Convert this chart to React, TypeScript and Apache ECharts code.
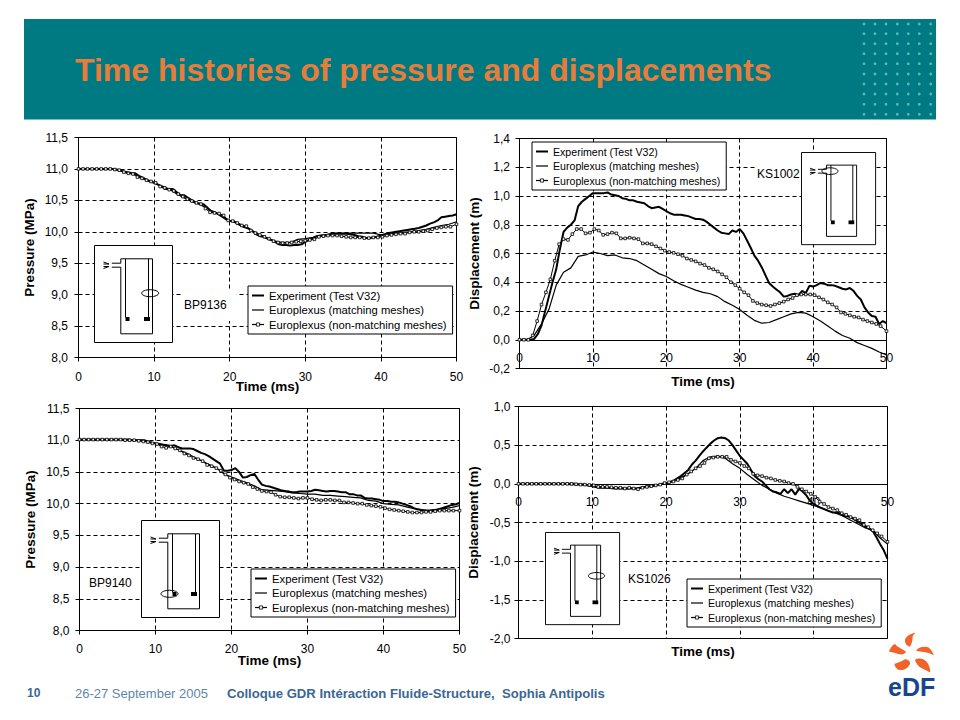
import React, { useEffect, useRef } from "react";
import * as echarts from "echarts";

const timesHalf: number[] = Array.from({ length: 101 }, (_, i) => i / 2);
const timesWhole: number[] = Array.from({ length: 51 }, (_, i) => i);
const timesMarked: number[] = Array.from({ length: 84 }, (_, i) => (i < 83 ? i * 0.6 : 50));

const seriesNames = ["Experiment (Test V32)", "Europlexus (matching meshes)", "Europlexus (non-matching meshes)"];

const tlExperiment = [
  11, 11, 11, 11, 11, 11, 11, 11, 11, 11,
  10.99, 10.98, 10.95, 10.94, 10.93, 10.93, 10.89, 10.86, 10.83, 10.8,
  10.78, 10.75, 10.72, 10.68, 10.68, 10.68, 10.63, 10.58, 10.58, 10.54,
  10.5, 10.46, 10.45, 10.44, 10.39, 10.33, 10.31, 10.28, 10.24, 10.2,
  10.17, 10.17, 10.13, 10.1, 10.07, 10.05, 10.01, 9.96, 9.93, 9.92,
  9.89, 9.87, 9.84, 9.8, 9.79, 9.79, 9.78, 9.79, 9.79, 9.8,
  9.84, 9.87, 9.9, 9.93, 9.94, 9.94, 9.95, 9.97, 9.97, 9.97,
  9.97, 9.97, 9.96, 9.95, 9.93, 9.92, 9.9, 9.9, 9.91, 9.92,
  9.94, 9.96, 9.98, 9.99, 10, 10.01, 10.02, 10.03, 10.04, 10.05,
  10.06, 10.08, 10.1, 10.13, 10.15, 10.18, 10.23, 10.24, 10.25, 10.26,
  10.28,
];
const tlMatching = [
  11, 11, 11, 11, 11, 10.99, 10.96, 10.94, 10.87, 10.82,
  10.78, 10.73, 10.68, 10.6, 10.54, 10.48, 10.44, 10.37, 10.31, 10.25,
  10.18, 10.14, 10.09, 10.02, 9.95, 9.9, 9.85, 9.83, 9.83, 9.88,
  9.89, 9.91, 9.94, 9.96, 9.98, 9.98, 9.98, 9.98, 9.98, 9.98,
  9.95, 9.96, 9.98, 9.99, 10, 10.02, 10.04, 10.07, 10.1, 10.12,
  10.16,
];
const tlNonMatching = [
  11, 11, 11, 11, 11, 11, 11, 11,
  10.99, 10.98, 10.95, 10.93, 10.92, 10.87, 10.85, 10.82, 10.8,
  10.78, 10.72, 10.7, 10.67, 10.65, 10.6, 10.56, 10.52,
  10.49, 10.46, 10.44, 10.37, 10.31, 10.3, 10.29, 10.26,
  10.18, 10.17, 10.14, 10.1, 10.09, 10.02, 9.98, 9.95, 9.92,
  9.89, 9.85, 9.83, 9.82, 9.82, 9.83, 9.84, 9.85,
  9.86, 9.87, 9.88, 9.92, 9.93, 9.94, 9.94, 9.94,
  9.93, 9.92, 9.91, 9.91, 9.91, 9.9, 9.9, 9.91, 9.91,
  9.92, 9.94, 9.95, 9.96, 9.97, 9.97, 9.99, 10,
  10, 10.01, 10.02, 10.04, 10.06, 10.07, 10.08, 10.08,
  10.12,
];

const trExperiment = [
  0, 0, 0, 0, 0.005, 0.04, 0.1, 0.2, 0.3, 0.4,
  0.49, 0.63, 0.75, 0.78, 0.8, 0.83, 0.93, 0.96, 0.98, 1.0,
  1.02, 1.02, 1.02, 1.02, 1.025, 1.01, 1.005, 1.0, 0.985, 0.98,
  0.97, 0.97, 0.96, 0.955, 0.95, 0.93, 0.915, 0.92, 0.925, 0.91,
  0.895, 0.88, 0.87, 0.87, 0.87, 0.865, 0.86, 0.85, 0.84, 0.84,
  0.835, 0.82, 0.8, 0.78, 0.76, 0.745, 0.74, 0.735, 0.76, 0.75,
  0.77, 0.74, 0.69, 0.64, 0.585, 0.55, 0.505, 0.45, 0.395, 0.37,
  0.35, 0.33, 0.3, 0.305, 0.315, 0.32, 0.31, 0.34, 0.325, 0.375,
  0.37, 0.38, 0.395, 0.39, 0.38, 0.38, 0.375, 0.365, 0.355, 0.35,
  0.36, 0.34, 0.305, 0.28, 0.225, 0.19, 0.165, 0.16, 0.11, 0.13,
  0.115,
];
const trMatching = [
  0, 0, 0.03, 0.11, 0.21, 0.38, 0.47, 0.5, 0.58, 0.59,
  0.61, 0.6, 0.585, 0.59, 0.57, 0.565, 0.55, 0.52, 0.49, 0.46,
  0.44, 0.41, 0.385, 0.365, 0.345, 0.33, 0.32, 0.3, 0.265, 0.24,
  0.21, 0.17, 0.135, 0.115, 0.12, 0.14, 0.16, 0.18, 0.19, 0.185,
  0.16, 0.13, 0.095, 0.06, 0.03, 0.01, -0.02, -0.04, -0.06, -0.085,
  -0.105,
];
const trNonMatching = [
  0, 0, 0, 0.03, 0.13, 0.245, 0.33, 0.42, 0.55, 0.665,
  0.7, 0.695, 0.735, 0.77, 0.77, 0.74, 0.745, 0.77, 0.76, 0.73, 0.735,
  0.745, 0.74, 0.705, 0.705,
  0.71, 0.705, 0.7, 0.67, 0.67, 0.665, 0.65, 0.635,
  0.62, 0.61, 0.605, 0.595, 0.585, 0.565, 0.555, 0.545, 0.53,
  0.52, 0.5, 0.49, 0.475, 0.455, 0.435, 0.4, 0.38,
  0.355, 0.33, 0.31, 0.27, 0.255, 0.245, 0.24, 0.235,
  0.245, 0.255, 0.265, 0.28, 0.29, 0.31, 0.315, 0.315, 0.315,
  0.31, 0.295, 0.28, 0.26, 0.245, 0.225, 0.19, 0.18,
  0.17, 0.16, 0.155, 0.14, 0.13, 0.12, 0.11, 0.095,
  0.06,
];

const blExperiment = [
  11.01, 11.01, 11.01, 11.01, 11.01, 11.01, 11.01, 11.01, 11.01, 11.01,
  11.01, 11.01, 11.01, 11.01, 11, 11, 11, 11, 10.98, 10.96,
  10.95, 10.94, 10.93, 10.92, 10.91, 10.92, 10.89, 10.87, 10.87, 10.87,
  10.86, 10.83, 10.8, 10.78, 10.75, 10.71, 10.67, 10.63, 10.52, 10.52,
  10.53, 10.56, 10.5, 10.41, 10.42, 10.45, 10.47, 10.38, 10.3, 10.28,
  10.27, 10.25, 10.23, 10.21, 10.2, 10.19, 10.18, 10.18, 10.19, 10.19,
  10.19, 10.2, 10.22, 10.21, 10.2, 10.19, 10.2, 10.2, 10.19, 10.18,
  10.18, 10.15, 10.15, 10.13, 10.13, 10.09, 10.08, 10.08, 10.07, 10.06,
  10.04, 10.04, 10.03, 10.03, 10.02, 10, 9.98, 9.96, 9.93, 9.91,
  9.9, 9.89, 9.88, 9.89, 9.9, 9.92, 9.94, 9.96, 9.98, 9.99,
  10.01,
];
const blMatching = [
  11.01, 11.01, 11.01, 11.01, 11.01, 11.01, 11.01, 11, 11, 10.98,
  10.95, 10.93, 10.9, 10.85, 10.8, 10.74, 10.68, 10.62, 10.56, 10.47,
  10.42, 10.37, 10.33, 10.28, 10.22, 10.21, 10.2, 10.19, 10.17, 10.16,
  10.15, 10.15, 10.13, 10.13, 10.12, 10.11, 10.1, 10.09, 10.05, 10.04,
  10, 9.99, 9.98, 9.95, 9.92, 9.9, 9.9, 9.91, 9.92, 9.94,
  9.97,
];
const blNonMatching = [
  11.01, 11.01, 11.01, 11.01, 11.01, 11.01, 11.01, 11.01,
  11.01, 11.01, 11, 11, 11, 10.99, 10.98, 10.97, 10.95,
  10.94, 10.9, 10.88, 10.9, 10.87, 10.84, 10.79, 10.76,
  10.72, 10.7, 10.67, 10.61, 10.59, 10.56, 10.52, 10.46,
  10.41, 10.38, 10.35, 10.33, 10.31, 10.26, 10.23, 10.2, 10.19,
  10.18, 10.14, 10.11, 10.1, 10.1, 10.09, 10.08, 10.09,
  10.09, 10.07, 10.06, 10.05, 10.06, 10.06, 10.05, 10.05,
  10.02, 10.02, 10.01, 10, 10, 9.98, 9.97, 9.96, 9.95,
  9.93, 9.91, 9.9, 9.89, 9.88, 9.87, 9.86, 9.86,
  9.86, 9.87, 9.87, 9.88, 9.89, 9.89, 9.89, 9.89,
  9.89,
];

const brExperiment = [
  0, 0, 0, 0, 0, 0, 0, 0, 0, 0,
  0, 0, 0, 0, 0, 0, -0.005, -0.005, -0.01, -0.02,
  -0.03, -0.04, -0.05, -0.05, -0.05, -0.055, -0.06, -0.06, -0.06, -0.065,
  -0.06, -0.06, -0.06, -0.05, -0.04, -0.03, -0.03, -0.02, -0.01, 0,
  0, 0.02, 0.04, 0.07, 0.1, 0.14, 0.18, 0.25, 0.3, 0.36,
  0.42, 0.47, 0.52, 0.56, 0.59, 0.6, 0.59, 0.56, 0.5, 0.43,
  0.36, 0.31, 0.26, 0.18, 0.1, 0.06, 0.03, -0.02, -0.07, -0.1,
  -0.11, -0.13, -0.07, -0.12, -0.07, -0.14, -0.065, -0.1, -0.15, -0.22,
  -0.26, -0.29, -0.31, -0.33, -0.35, -0.37, -0.37, -0.38, -0.41, -0.42,
  -0.43, -0.46, -0.49, -0.52, -0.55, -0.58, -0.61, -0.69, -0.78, -0.86,
  -0.97,
];
const brMatching = [
  0, 0, 0, 0, 0, 0, 0, -0.01, -0.01, -0.02,
  -0.03, -0.04, -0.05, -0.05, -0.06, -0.06, -0.06, -0.05, -0.03, -0.01,
  0.01, 0.04, 0.08, 0.13, 0.2, 0.3, 0.35, 0.36, 0.33, 0.26,
  0.2, 0.12, 0.05, -0.02, -0.07, -0.12, -0.16, -0.19, -0.22, -0.25,
  -0.28, -0.31, -0.35, -0.38, -0.42, -0.47, -0.52, -0.57, -0.6, -0.7,
  -0.78,
];
const brNonMatching = [
  0, 0, 0, 0, 0, 0, 0, 0,
  0, 0, 0, 0, 0, -0.005, -0.01, -0.01, -0.015,
  -0.02, -0.04, -0.04, -0.04, -0.045, -0.05, -0.05, -0.06,
  -0.05, -0.06, -0.07, -0.05, -0.04, -0.03, -0.02, -0.01,
  0.01, 0.02, 0.03, 0.05, 0.07, 0.12, 0.16, 0.2, 0.23,
  0.27, 0.33, 0.34, 0.35, 0.35, 0.35, 0.31, 0.29,
  0.27, 0.23, 0.2, 0.13, 0.11, 0.1, 0.08, 0.07,
  0.05, 0.04, 0.03, 0.01, 0, -0.04, -0.07, -0.1, -0.13,
  -0.17, -0.23, -0.26, -0.3, -0.32, -0.34, -0.38, -0.4,
  -0.43, -0.45, -0.47, -0.53, -0.56, -0.6, -0.64, -0.68,
  -0.75,
];

const dotColumns = [864, 875, 886, 897.3, 908.3, 919.3, 930.7];
const dotRows = [24, 33.7, 43.7, 53.7, 63.7, 74, 84, 94, 104.3, 114.3];

const logoPath =
  "M168 38C150 40 135 50 135 62C135 72 142 78 150 80C156 72 158 60 158 52C158 46 162 42 168 38Z" +
  "M87 95C92 82 100 72 106 72C112 82 125 85 138 95C135 103 125 105 115 102C105 98 95 96 87 95Z" +
  "M168 92C175 82 190 78 205 82C215 90 220 100 222 106C210 98 190 96 168 92Z" +
  "M165 120C175 112 190 115 200 125C208 135 213 150 210 158C200 150 190 148 180 142C172 135 168 128 165 120Z" +
  "M103 132C112 128 125 125 135 118C145 118 152 125 150 132C145 145 130 152 118 150C110 148 105 140 103 132Z";
echarts.graphic.registerShape("edfLogo", echarts.graphic.extendPath(logoPath, {}) as any);

const comma = (v: number) => v.toFixed(1).replace(".", ",");
const FONT = "'Liberation Sans', Arial, sans-serif";

function pairs(times: number[], values: number[]) {
  return values.map((v, i) => [times[i], v]);
}

function panelSeries(idx: number, exp: number[], mat: number[], non: number[]) {
  const base = { type: "line", xAxisIndex: idx, yAxisIndex: idx, smooth: false, z: 3 };
  return [
    { ...base, name: seriesNames[0], data: pairs(timesHalf, exp), symbol: "none", lineStyle: { color: "#000", width: 2 }, itemStyle: { color: "#000" } },
    { ...base, name: seriesNames[1], data: pairs(timesWhole, mat), symbol: "none", lineStyle: { color: "#000", width: 1.2 }, itemStyle: { color: "#000" } },
    { ...base, name: seriesNames[2], data: pairs(timesMarked, non), symbol: "rect", symbolSize: 2.6, lineStyle: { color: "#000", width: 1 }, itemStyle: { color: "#fff", borderColor: "#000", borderWidth: 0.8 } },
  ];
}

function panelAxes(idx: number, yMin: number, yMax: number, yStep: number, yName: string, xGap: number, yGap: number, xMargin: number, yMargin: number) {
  const common = {
    gridIndex: idx,
    type: "value",
    axisLine: { show: true, lineStyle: { color: "#000", width: 1 } },
    axisTick: { show: true, length: 4, lineStyle: { color: "#000" } },
    splitLine: { show: true, lineStyle: { color: "#000", width: 1, type: [4, 3] } },
    nameLocation: "middle",
    nameMoveOverlap: false,
    nameTextStyle: { color: "#000", fontFamily: FONT, fontWeight: "bold", fontSize: 13.5 },
  };
  return {
    x: {
      ...common,
      min: 0,
      max: 50,
      interval: 10,
      name: "Time (ms)",
      nameGap: xGap,
      axisLabel: { color: "#000", fontFamily: FONT, fontSize: 12, margin: xMargin, showMinLabel: true, showMaxLabel: true },
    },
    y: {
      ...common,
      min: yMin,
      max: yMax,
      interval: yStep,
      name: yName,
      nameGap: yGap,
      axisLabel: { color: "#000", fontFamily: FONT, fontSize: 12, margin: yMargin, formatter: comma, showMinLabel: true, showMaxLabel: true },
    },
  };
}

const hiddenMarker = { opacity: 0, borderWidth: 0 };

function legendAt(left: number, top: number, fontSize: number) {
  return {
    orient: "vertical",
    left,
    top,
    data: [
      { name: seriesNames[0], itemStyle: hiddenMarker, lineStyle: { color: "#000", width: 2 } },
      { name: seriesNames[1], itemStyle: hiddenMarker, lineStyle: { color: "#000", width: 1.2 } },
      { name: seriesNames[2], itemStyle: { color: "#fff", borderColor: "#000", borderWidth: 0.8 }, lineStyle: { color: "#000", width: 1.2 } },
    ],
    selectedMode: false,
    itemWidth: 12,
    itemHeight: 4,
    itemGap: 3.5,
    padding: [4, 6, 4, 3],
    backgroundColor: "#fff",
    borderColor: "#000",
    borderWidth: 1,
    borderRadius: 0,
    textStyle: { color: "#000", fontFamily: FONT, fontSize },
  };
}

function inset(x: number, y: number, s: number, ex: number, ey: number, markerLeft: number) {
  const ln = (x1: number, y1: number, x2: number, y2: number) => ({
    type: "line",
    shape: { x1, y1, x2, y2 },
    style: { stroke: "#000", lineWidth: 1 },
  });
  const sq = (rx: number, ry: number, w: number, h: number) => ({
    type: "rect",
    shape: { x: rx, y: ry, width: w, height: h },
    style: { fill: "#000" },
  });
  return {
    type: "group",
    x,
    y,
    scaleX: s,
    scaleY: s,
    z: 10,
    children: [
      { type: "rect", z: 10, shape: { x: 0, y: 0, width: 78, height: 97 }, style: { fill: "#fff", stroke: "#000", lineWidth: 1 } },
      ...[
        ln(26.3, 13.3, 58, 13.3),
        ln(26.3, 13.3, 26.3, 17.7),
        ln(26.3, 21.7, 26.3, 88.3),
        ln(26.3, 88.3, 58, 88.3),
        ln(58, 13.3, 58, 88.3),
        ln(31, 13.3, 31, 72),
        ln(54, 13.3, 54, 72),
        ln(17.3, 17.7, 26.3, 17.7),
        ln(17.3, 21.7, 26.3, 21.7),
        ln(9, 16.5, 14.5, 18.5),
        ln(14.5, 18.5, 9, 18.5),
        ln(9, 23, 14.5, 21),
        ln(14.5, 21, 9, 21),
        sq(markerLeft, 71.5, 4, 4),
        sq(49.5, 71.5, 6, 4),
        { type: "ellipse", shape: { cx: ex, cy: ey, rx: 8.5, ry: 3.5 }, style: { fill: "none", stroke: "#000", lineWidth: 1 } },
      ].map((c) => ({ ...c, z: 11 })),
    ],
  };
}

function label(text: string, x: number, y: number, padding: number[]) {
  return {
    type: "text",
    x,
    y,
    z: 9,
    style: { text, fill: "#000", fontFamily: FONT, fontSize: 12, verticalAlign: "middle", backgroundColor: "#fff", padding },
  };
}

export default function App() {
  const ref = useRef<HTMLDivElement>(null);
  useEffect(() => {
    document.body.style.margin = "0";
    const chart = echarts.init(ref.current!, null, { renderer: "svg" });
    const tl = panelAxes(0, 8, 11.5, 0.5, "Pressure (MPa)", 22, 42, 13.5, 10.5);
    const tr = panelAxes(1, -0.2, 1.4, 0.2, "Displacement (m)", 6, 38, -16.7, 9.5);
    const bl = panelAxes(2, 8, 11.5, 0.5, "Pressure (MPa)", 23, 42, 12.3, 10);
    const br = panelAxes(3, -2, 1, 0.5, "Displacement (m)", 6, 38, -142.7, 8);
    const dots: any[] = [];
    dotRows.forEach((cy) =>
      dotColumns.forEach((cx) =>
        dots.push({ type: "circle", shape: { cx, cy, r: 1.4 }, style: { fill: "#62b3b8" }, z: 1 })
      )
    );
    const gridBase = { show: true, borderColor: "#000", borderWidth: 1, backgroundColor: "#fff", outerBoundsMode: "none" };
    chart.setOption({
      animation: false,
      backgroundColor: "#fff",
      grid: [
        { ...gridBase, left: 78.5, top: 137.5, width: 378, height: 220 },
        { ...gridBase, left: 519.5, top: 138.5, width: 367, height: 230 },
        { ...gridBase, left: 79.5, top: 408.5, width: 380, height: 222 },
        { ...gridBase, left: 518.5, top: 406.5, width: 369, height: 232 },
      ],
      xAxis: [tl.x, tr.x, bl.x, br.x],
      yAxis: [tl.y, tr.y, bl.y, br.y],
      legend: [
        legendAt(248, 286, 11.25),
        legendAt(532, 142, 10.6),
        legendAt(251, 569, 11.25),
        legendAt(687, 579, 10.6),
      ],
      series: [
        ...panelSeries(0, tlExperiment, tlMatching, tlNonMatching),
        ...panelSeries(1, trExperiment, trMatching, trNonMatching),
        ...panelSeries(2, blExperiment, blMatching, blNonMatching),
        ...panelSeries(3, brExperiment, brMatching, brNonMatching),
      ],
      graphic: [
        { type: "rect", shape: { x: 24, y: 19, width: 912, height: 100.5 }, style: { fill: "#007a82" }, z: 0 },
        ...dots,
        {
          type: "text",
          x: 75,
          y: 70,
          z: 1,
          style: { text: "Time histories of pressure and displacements", fill: "#e87c3a", fontFamily: FONT, fontWeight: "bold", fontSize: 32, verticalAlign: "middle" },
        },
        inset(94.5, 245.5, 1, 55.7, 47.7, 31),
        inset(801.5, 152.5, 0.95, 30, 19.6, 31),
        inset(141.5, 520.5, 1, 28, 73.3, 31),
        inset(545.5, 532.5, 0.95, 53.7, 45.6, 31),
        label("BP9136", 182, 305, [14, 10, 6, 2]),
        label("KS1002", 755, 174, [2, 2, 2, 2]),
        label("BP9140", 87, 583, [2, 2, 2, 2]),
        label("KS1026", 626, 579, [2, 2, 2, 2]),
        { type: "text", x: 27, y: 693, z: 1, style: { text: "10", fill: "#3a6794", fontFamily: FONT, fontWeight: "bold", fontSize: 12, verticalAlign: "middle" } },
        { type: "text", x: 75, y: 693, z: 1, style: { text: "26-27 September 2005", fill: "#5f86a8", fontFamily: FONT, fontSize: 13, verticalAlign: "middle" } },
        { type: "text", x: 227, y: 693, z: 1, style: { text: "Colloque GDR Intéraction Fluide-Structure,  Sophia Antipolis", fill: "#3a6794", fontFamily: FONT, fontWeight: "bold", fontSize: 13.1, verticalAlign: "middle" } },
        { type: "edfLogo", x: 860, y: 620, scaleX: 1 / 3, scaleY: 1 / 3, z: 1, style: { fill: "#f0642a" } },
        { type: "text", x: 888, y: 687, z: 1, style: { text: "eDF", fill: "#17468c", fontFamily: FONT, fontWeight: "bold", fontSize: 25, verticalAlign: "middle" } },
      ],
    } as any);
    return () => chart.dispose();
  }, []);
  return <div ref={ref} style={{ width: 960, height: 720 }} />;
}
